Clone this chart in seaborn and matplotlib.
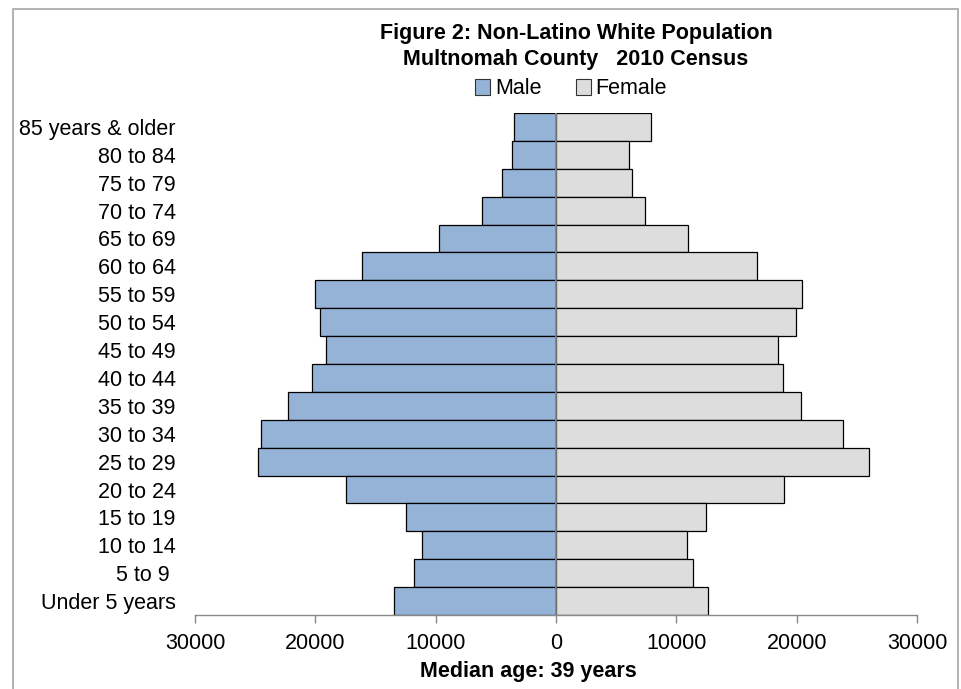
import matplotlib
matplotlib.use("Agg")
import matplotlib.pyplot as plt
import seaborn as sns
import pandas as pd
from matplotlib.ticker import FuncFormatter
from matplotlib.patches import Rectangle, Patch

age_groups = ["85 years & older", "80 to 84", "75 to 79", "70 to 74", "65 to 69",
              "60 to 64", "55 to 59", "50 to 54", "45 to 49", "40 to 44",
              "35 to 39", "30 to 34", "25 to 29", "20 to 24", "15 to 19",
              "10 to 14", "5 to 9 ", "Under 5 years"]
male = [3460, 3650, 4480, 6140, 9750, 16150, 20030, 19580, 19090, 20270,
        22300, 24550, 24800, 17450, 12490, 11130, 11830, 13460]
female = [7870, 6040, 6290, 7430, 10950, 16680, 20480, 19960, 18490, 18850,
          20370, 23830, 25990, 18930, 12440, 10870, 11400, 12610]
x_ticks = [-30000, -20000, -10000, 0, 10000, 20000, 30000]

male_color = "#95B3D7"
female_color = "#DDDDDD"

df = pd.DataFrame({
    "age": age_groups * 2,
    "value": [-v for v in male] + female,
    "sex": ["Male"] * len(male) + ["Female"] * len(female),
})

sns.set_theme(style="white")
plt.rcParams["font.family"] = ["Liberation Sans", "DejaVu Sans"]
plt.rcParams["text.color"] = "black"
plt.rcParams["axes.labelcolor"] = "black"
plt.rcParams["xtick.color"] = "black"
plt.rcParams["ytick.color"] = "black"

fig = plt.figure(figsize=(9.61, 6.89), dpi=100)
ax = fig.add_axes([195 / 961, 1 - 615 / 689, (917 - 195) / 961, (615 - 113) / 689])

sns.barplot(data=df, x="value", y="age", hue="sex", order=age_groups,
            hue_order=["Male", "Female"], palette=[male_color, female_color],
            saturation=1, dodge=False, width=1.0, edgecolor="black", linewidth=0.9,
            legend=False, ax=ax)

ax.set_xlim(-30000, 30000)
ax.set_ylim(len(age_groups) - 0.5, -0.5)
ax.set_xticks(x_ticks)
ax.xaxis.set_major_formatter(FuncFormatter(lambda v, p: f"{abs(int(v))}"))
ax.tick_params(axis="x", length=6, width=1, color="#888888", labelsize=15.5,
               pad=7, bottom=True, labelcolor="black")
ax.tick_params(axis="y", length=0, labelsize=15.5, pad=14, labelcolor="black")
for s in ["top", "right", "left"]:
    ax.spines[s].set_visible(False)
ax.spines["bottom"].set_color("#888888")
ax.spines["bottom"].set_linewidth(1)
ax.axvline(0, color="#888888", lw=1.2, zorder=5)
ax.set_ylabel("")
ax.set_xlabel("")

fig.text(528 / 961, 1 - 671 / 689, "Median age: 39 years", ha="center", va="center",
         fontsize=15.5, fontweight="bold", color="black")
fig.text(576 / 961, 1 - 33 / 689, "Figure 2: Non-Latino White Population",
         ha="center", va="center", fontsize=15.5, fontweight="bold", color="black")
fig.text(576 / 961, 1 - 59 / 689, "Multnomah County   2010 Census",
         ha="center", va="center", fontsize=15.5, fontweight="bold", color="black")

handles = [Patch(facecolor=male_color, edgecolor="#333333", lw=0.8, label="Male"),
           Patch(facecolor=female_color, edgecolor="#333333", lw=0.8, label="Female")]
fig.legend(handles=handles, loc="center", bbox_to_anchor=(571 / 961, 1 - 89 / 689),
           ncol=2, frameon=False, fontsize=15.5, handlelength=0.7, handleheight=0.7,
           handletextpad=0.2, columnspacing=1.6, borderaxespad=0, labelcolor="black")

fig.patches.append(Rectangle((13 / 961, -0.05), (958 - 13) / 961, 1.05 - 9 / 689,
                             transform=fig.transFigure, fill=False,
                             edgecolor="#A6A6A6", lw=1.2))

fig.savefig("out.png", dpi=100)
